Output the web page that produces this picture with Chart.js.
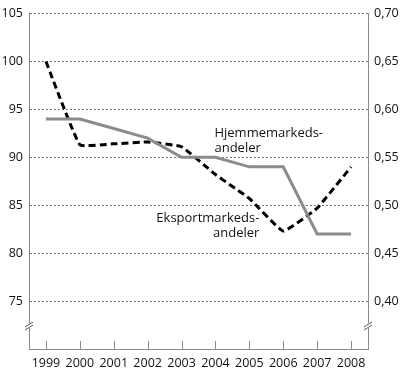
<!DOCTYPE html>
<html>
<head>
<meta charset="utf-8">
<script src="https://cdn.jsdelivr.net/npm/chart.js@4"></script>
<style>
	html, body { margin: 0; padding: 0; background: #fff; }
	#wrap { width: 400px; height: 372px; }
</style>
</head>
<body>
<div id="wrap"><canvas id="chart" width="400" height="372"></canvas></div>
<script>
// DATA

const years = ['1999', '2000', '2001', '2002', '2003', '2004', '2005', '2006', '2007', '2008'];
const eksportValues = [100, 91.3, 91.4, 91.6, 91.1, 88.2, 85.7, 82.3, 84.7, 89.0];   // left axis
const hjemmeValues = [0.59, 0.59, 0.58, 0.57, 0.55, 0.55, 0.54, 0.54, 0.47, 0.47];  // right axis
const leftTicks = [75, 80, 85, 90, 95, 100, 105];
const rightTicks = [0.40, 0.45, 0.50, 0.55, 0.60, 0.65, 0.70];
const hjemmeLabel = ['Hjemmemarkeds-', 'andeler'];
const eksportLabel = ['Eksportmarkeds-', 'andeler'];

const FONT = '"Open Sans", sans-serif';
const AXIS_GREY = '#8a8a8a';

// draws the x ticks, the axis break marks and the two line labels
const extras = {
	id: 'extras',
	afterDraw(chart) {
		const ctx = chart.ctx;
		const area = chart.chartArea;
		const x = chart.scales.x;
		const y = chart.scales.y;
		ctx.save();

		// tick marks pointing up from the x axis
		ctx.strokeStyle = AXIS_GREY;
		ctx.lineWidth = 1;
		years.forEach((yr, i) => {
			const px = Math.round(x.getPixelForValue(i)) + 0.5;
			ctx.beginPath();
			ctx.moveTo(px, area.bottom);
			ctx.lineTo(px, area.bottom - 8);
			ctx.stroke();
		});

		// break marks on both vertical axes
		const by = y.getPixelForValue(72.4);
		[area.left, area.right].forEach(ax => {
			ctx.fillStyle = '#fff';
			ctx.fillRect(ax - 3, by - 3, 6, 5);
			ctx.strokeStyle = '#555';
			ctx.beginPath();
			ctx.moveTo(ax - 4, by + 1); ctx.lineTo(ax + 4, by - 4);
			ctx.moveTo(ax - 4, by + 4); ctx.lineTo(ax + 4, by - 1);
			ctx.stroke();
		});

		// line labels
		ctx.fillStyle = '#111';
		ctx.font = '13px ' + FONT;
		ctx.textBaseline = 'middle';
		ctx.textAlign = 'left';
		const hx = x.getPixelForValue(5) - 1;
		const hy = y.getPixelForValue(92.5);
		ctx.fillText(hjemmeLabel[0], hx, hy);
		ctx.fillText(hjemmeLabel[1], hx, hy + 15);

		ctx.textAlign = 'right';
		const ex = x.getPixelForValue(6) + 10;
		const ey = y.getPixelForValue(83.6);
		ctx.fillText(eksportLabel[0], ex, ey);
		ctx.fillText(eksportLabel[1], ex, ey + 15);

		ctx.restore();
	}
};

function initialize() {
	const context = document.getElementById('chart').getContext('2d');

	new Chart(context, {
		type: 'line',
		data: {
			labels: years,
			datasets: [
				{
					label: 'Hjemmemarkedsandeler',
					data: hjemmeValues,
					yAxisID: 'y1',
					borderColor: '#8c8c8c',
					borderWidth: 3,
					pointRadius: 0,
					tension: 0,
				},
				{
					label: 'Eksportmarkedsandeler',
					data: eksportValues,
					yAxisID: 'y',
					borderColor: '#000',
					borderWidth: 3,
					borderDash: [7, 4],
					pointRadius: 0,
					tension: 0.1,
				},
			],
		},
		options: {
			responsive: false,
			animation: false,
			layout: { padding: { top: 6, left: 0, right: 0, bottom: 0 } },
			plugins: {
				legend: { display: false },
				tooltip: { enabled: false },
			},
			scales: {
				x: {
					offset: true,
					grid: { display: false, drawTicks: false },
					border: { color: AXIS_GREY, width: 1 },
					ticks: { color: '#111', font: { family: FONT, size: 12.5 }, padding: 7, maxRotation: 0 },
					afterFit(s) { s.height = 23; },
				},
				y: {
					position: 'left',
					min: 70,
					max: 105,
					afterBuildTicks(s) { s.ticks = [70].concat(leftTicks).map(v => ({ value: v })); },
					grid: {
						drawTicks: false,
						color: c => c.tick.value === 70 ? 'rgba(0,0,0,0)' : '#777',
						lineWidth: 1,
					},
					// in v4 border.dash dashes the grid lines, the axis line stays solid
					border: { color: AXIS_GREY, width: 1, dash: [2, 2] },
					ticks: {
						color: '#111',
						font: { family: FONT, size: 12.5 },
						padding: 6,
						callback: v => v === 70 ? '' : String(v),
					},
					afterFit(s) { s.width = 29; },
				},
				y1: {
					position: 'right',
					min: 0.35,
					max: 0.70,
					afterBuildTicks(s) { s.ticks = rightTicks.map(v => ({ value: v })); },
					grid: { display: false, drawTicks: false },
					border: { color: AXIS_GREY, width: 1 },
					ticks: {
						color: '#111',
						font: { family: FONT, size: 12.5 },
						padding: 6,
						callback: v => v.toFixed(2).replace('.', ','),
					},
					afterFit(s) { s.width = 32; },
				},
			},
		},
		plugins: [extras],
	});
}

initialize();
</script>
</body>
</html>
